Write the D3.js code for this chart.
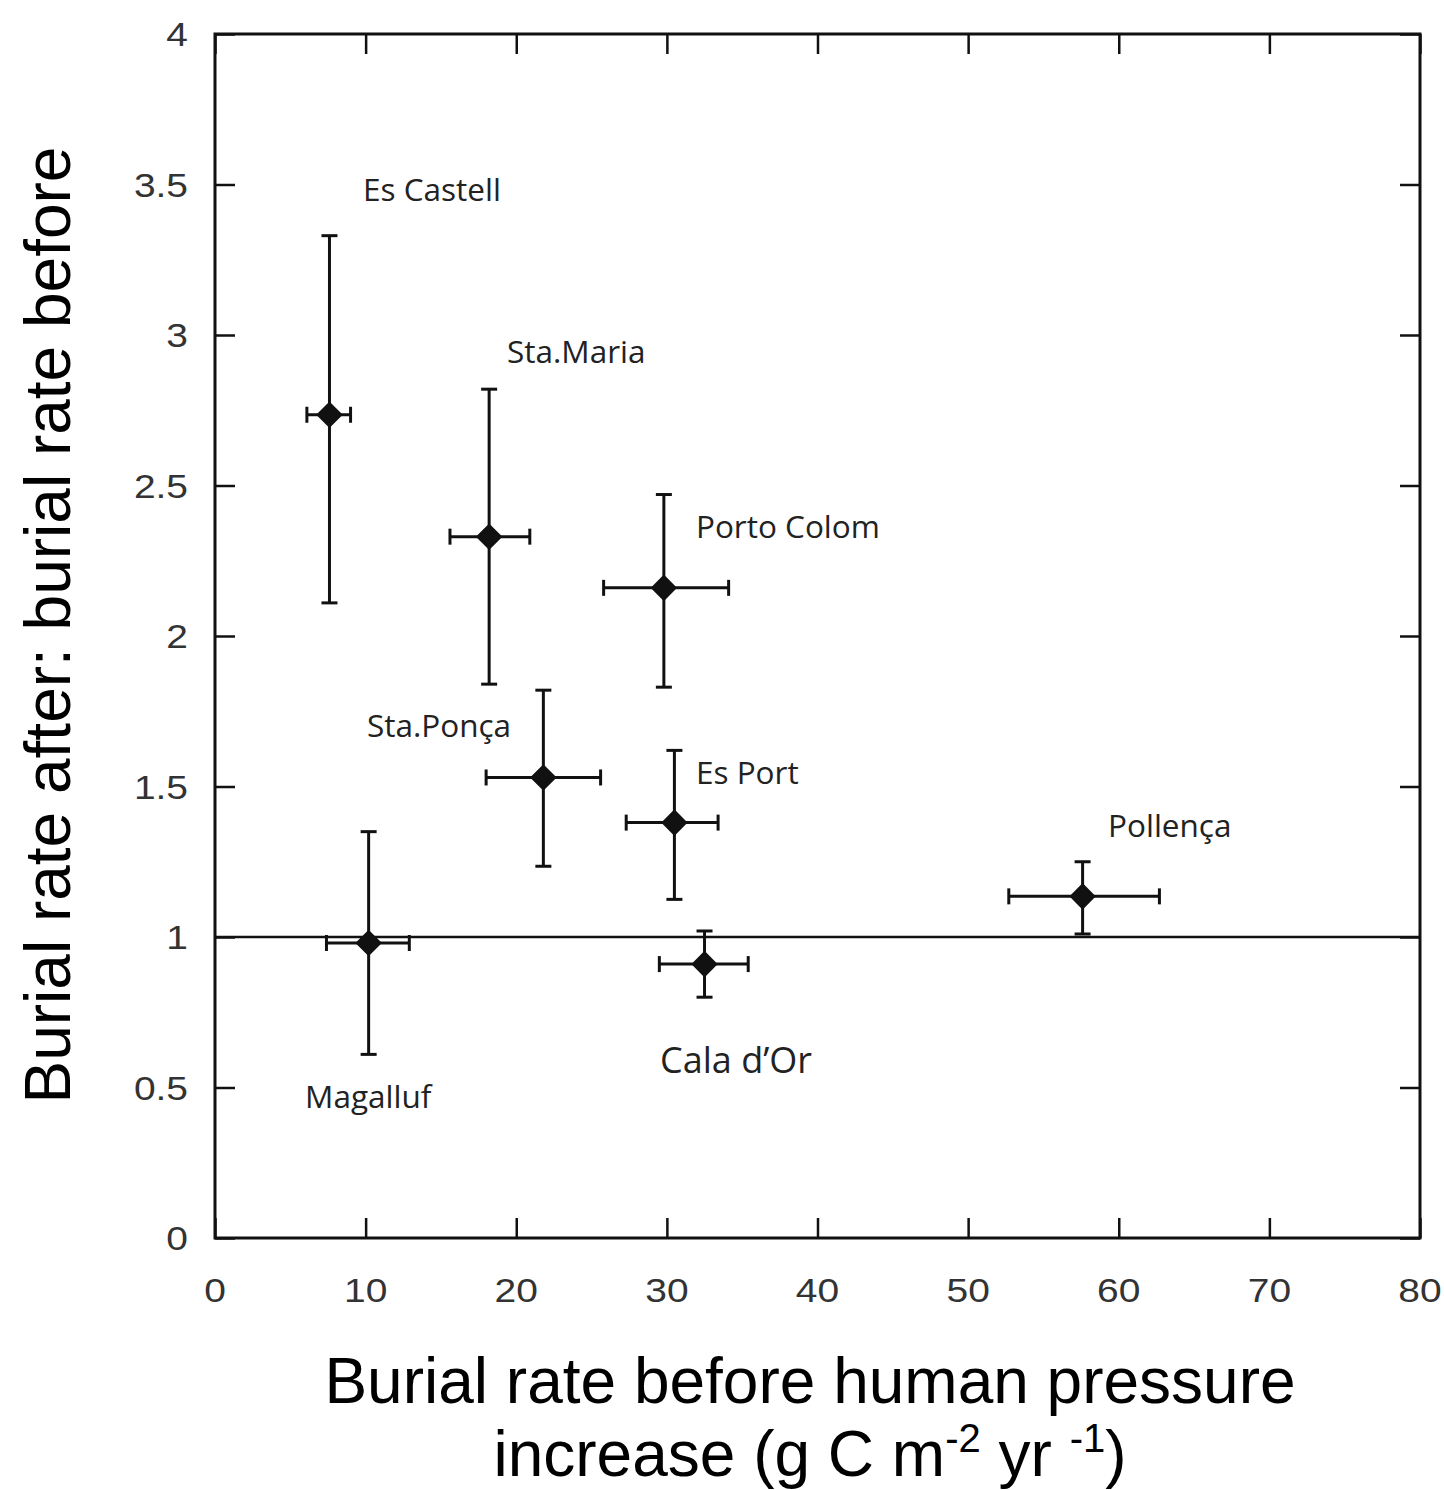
<!DOCTYPE html>
<html><head><meta charset="utf-8">
<script src="https://cdn.jsdelivr.net/npm/d3@7"></script>
<style>body{margin:0;background:#fff}</style>
</head><body>
<svg id="c" width="1444" height="1490"></svg>
<script>
const sites = ["Es Castell","Sta.Maria","Porto Colom","Sta.Ponça","Es Port","Pollença","Magalluf","Cala d’Or"];
const xVal  = [7.6, 18.2, 29.8, 21.8, 30.5, 57.6, 10.2, 32.5];
const yVal  = [2.735, 2.33, 2.16, 1.53, 1.38, 1.135, 0.98, 0.91];
const xLo   = [6.1, 15.6, 25.8, 18.0, 27.3, 52.7, 7.4, 29.5];
const xHi   = [9.0, 20.9, 34.1, 25.6, 33.4, 62.7, 12.9, 35.4];
const yLo   = [2.11, 1.84, 1.83, 1.235, 1.125, 1.01, 0.61, 0.80];
const yHi   = [3.33, 2.82, 2.47, 1.82, 1.62, 1.25, 1.35, 1.02];
const labelX = [9.83, 19.39, 31.93, 10.09, 31.93, 59.29, 5.98, 29.55];
const labelY = [3.446, 2.908, 2.327, 1.663, 1.507, 1.331, 0.4315, 0.548];
const xTicks = [0,10,20,30,40,50,60,70,80];
const yTicks = [0,0.5,1,1.5,2,2.5,3,3.5,4];
const yTickLabels = ["0","0.5","1","1.5","2","2.5","3","3.5","4"];

const svg = d3.select("#c");
const L=215, R=1420, T=34, B=1238;
const x = d3.scaleLinear().domain([0,80]).range([L,R]);
const y = d3.scaleLinear().domain([0,4]).range([B,T]);

const tickStyle = g => {
  g.select(".domain").remove();
  g.selectAll(".tick line").attr("stroke","#111").attr("stroke-width",2.5);
};
// inward ticks on four sides
svg.append("g").attr("transform",`translate(0,${B})`)
  .call(d3.axisTop(x).tickValues(xTicks).tickSize(20).tickFormat("")).call(tickStyle);
svg.append("g").attr("transform",`translate(0,${T})`)
  .call(d3.axisBottom(x).tickValues(xTicks).tickSize(20).tickFormat("")).call(tickStyle);
svg.append("g").attr("transform",`translate(${L},0)`)
  .call(d3.axisRight(y).tickValues(yTicks).tickSize(20).tickFormat("")).call(tickStyle);
svg.append("g").attr("transform",`translate(${R},0)`)
  .call(d3.axisLeft(y).tickValues(yTicks).tickSize(20).tickFormat("")).call(tickStyle);

// frame
svg.append("rect").attr("x",L).attr("y",T).attr("width",R-L).attr("height",B-T)
  .attr("fill","none").attr("stroke","#111").attr("stroke-width",3);

// tick labels (slightly wide glyphs as in the reference)
svg.append("g").selectAll("text").data(xTicks).join("text")
  .attr("transform",d=>`translate(${x(d)},${B+64}) scale(1.18,1)`).attr("text-anchor","middle")
  .attr("font-family","Liberation Sans, Arial, sans-serif").attr("font-size",33).attr("fill","#333")
  .text(d=>d);
svg.append("g").selectAll("text").data(yTicks).join("text")
  .attr("transform",d=>`translate(${L-27},${y(d)+12}) scale(1.18,1)`).attr("text-anchor","end")
  .attr("font-family","Liberation Sans, Arial, sans-serif").attr("font-size",33).attr("fill","#333")
  .text((d,i)=>yTickLabels[i]);

// reference line y=1
svg.append("line").attr("x1",x(0)).attr("x2",x(80)).attr("y1",y(1)).attr("y2",y(1))
  .attr("stroke","#111").attr("stroke-width",2.5);

// error bars
const idx = d3.range(sites.length);
const cap = 8;
const eg = svg.append("g").attr("stroke","#111").attr("stroke-width",3);
idx.forEach(i=>{
  eg.append("line").attr("x1",x(xVal[i])).attr("x2",x(xVal[i])).attr("y1",y(yLo[i])).attr("y2",y(yHi[i]));
  eg.append("line").attr("x1",x(xVal[i])-cap).attr("x2",x(xVal[i])+cap).attr("y1",y(yLo[i])).attr("y2",y(yLo[i]));
  eg.append("line").attr("x1",x(xVal[i])-cap).attr("x2",x(xVal[i])+cap).attr("y1",y(yHi[i])).attr("y2",y(yHi[i]));
  eg.append("line").attr("x1",x(xLo[i])).attr("x2",x(xHi[i])).attr("y1",y(yVal[i])).attr("y2",y(yVal[i]));
  eg.append("line").attr("x1",x(xLo[i])).attr("x2",x(xLo[i])).attr("y1",y(yVal[i])-cap).attr("y2",y(yVal[i])+cap);
  eg.append("line").attr("x1",x(xHi[i])).attr("x2",x(xHi[i])).attr("y1",y(yVal[i])-cap).attr("y2",y(yVal[i])+cap);
});

// diamond markers
svg.append("g").selectAll("path").data(idx).join("path")
  .attr("transform",i=>`translate(${x(xVal[i])},${y(yVal[i])}) rotate(45)`)
  .attr("d",d3.symbol(d3.symbolSquare,280)())
  .attr("fill","#111").attr("stroke","#111").attr("stroke-width",2).attr("stroke-linejoin","round");

// site labels
svg.append("g").selectAll("text").data(idx).join("text")
  .attr("x",i=>x(labelX[i])).attr("y",i=>y(labelY[i]))
  .attr("font-family","Open Sans, Noto Sans, sans-serif")
  .attr("font-size",i=>sites[i]==="Cala d’Or"?36:31.5).attr("fill","#222")
  .text(i=>sites[i]);

// axis titles
svg.append("text").attr("transform",`translate(70,625) rotate(-90)`)
  .attr("text-anchor","middle").attr("font-family","Liberation Sans, Arial, sans-serif")
  .attr("font-size",64).attr("fill","#000").text("Burial rate after: burial rate before");
svg.append("text").attr("x",810).attr("y",1403).attr("text-anchor","middle")
  .attr("font-family","Liberation Sans, Arial, sans-serif").attr("font-size",64).attr("fill","#000")
  .text("Burial rate before human pressure");
const t2 = svg.append("text").attr("x",810).attr("y",1476).attr("text-anchor","middle")
  .attr("font-family","Liberation Sans, Arial, sans-serif").attr("font-size",64).attr("fill","#000");
t2.append("tspan").text("increase (g C m");
t2.append("tspan").attr("dy",-24).attr("font-size",40).text("-2");
t2.append("tspan").attr("dy",24).text(" yr ");
t2.append("tspan").attr("dy",-24).attr("font-size",40).text("-1");
t2.append("tspan").attr("dy",24).text(")");
</script>
</body></html>
